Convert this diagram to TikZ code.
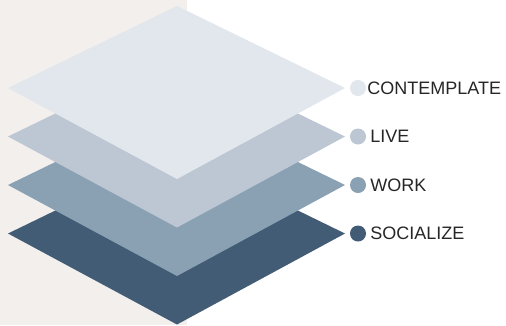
\documentclass[tikz,border=0pt]{standalone}
\usepackage{fontspec}
\setmainfont{Liberation Sans}
\usetikzlibrary{positioning}

\definecolor{backbeige}{RGB}{242,239,236}
\definecolor{contemplatecol}{RGB}{225,231,236}
\definecolor{livecol}{RGB}{188,199,211}
\definecolor{workcol}{RGB}{138,160,179}
\definecolor{socializecol}{RGB}{66,92,117}

\begin{document}
\begin{tikzpicture}[x=1pt, y=-1pt,
    dot/.style={circle, fill=#1, minimum size=16pt, inner sep=0pt},
    tag/.style={font=\fontsize{18}{20}\selectfont, text=black!85, inner sep=0pt}]
    \useasboundingbox (0,0) rectangle (506,325);
    \fill[backbeige] (0,0) rectangle (187,325);

    % layers, bottom first
    \foreach \name/\y in {socialize/233.5, work/185, live/136.5, contemplate/88} {
        \coordinate (\name-w) at (8,\y);
        \coordinate (\name-n) at (177,\y-82);
        \coordinate (\name-e) at (345,\y);
        \coordinate (\name-s) at (177,\y+91);
        \fill[\name col] (\name-w) -- (\name-n) -- (\name-e) -- (\name-s) -- cycle;
        \node[dot=\name col] (\name-dot) at (358,\y) {};
    }

    \node[tag, right=1pt of contemplate-dot] (contemplate-tag) {CONTEMPLATE};
    \node[tag, right=4pt of live-dot] (live-tag) {LIVE};
    \node[tag, right=4pt of work-dot] (work-tag) {WORK};
    \node[tag, right=4pt of socialize-dot] (socialize-tag) {SOCIALIZE};
\end{tikzpicture}
\end{document}
